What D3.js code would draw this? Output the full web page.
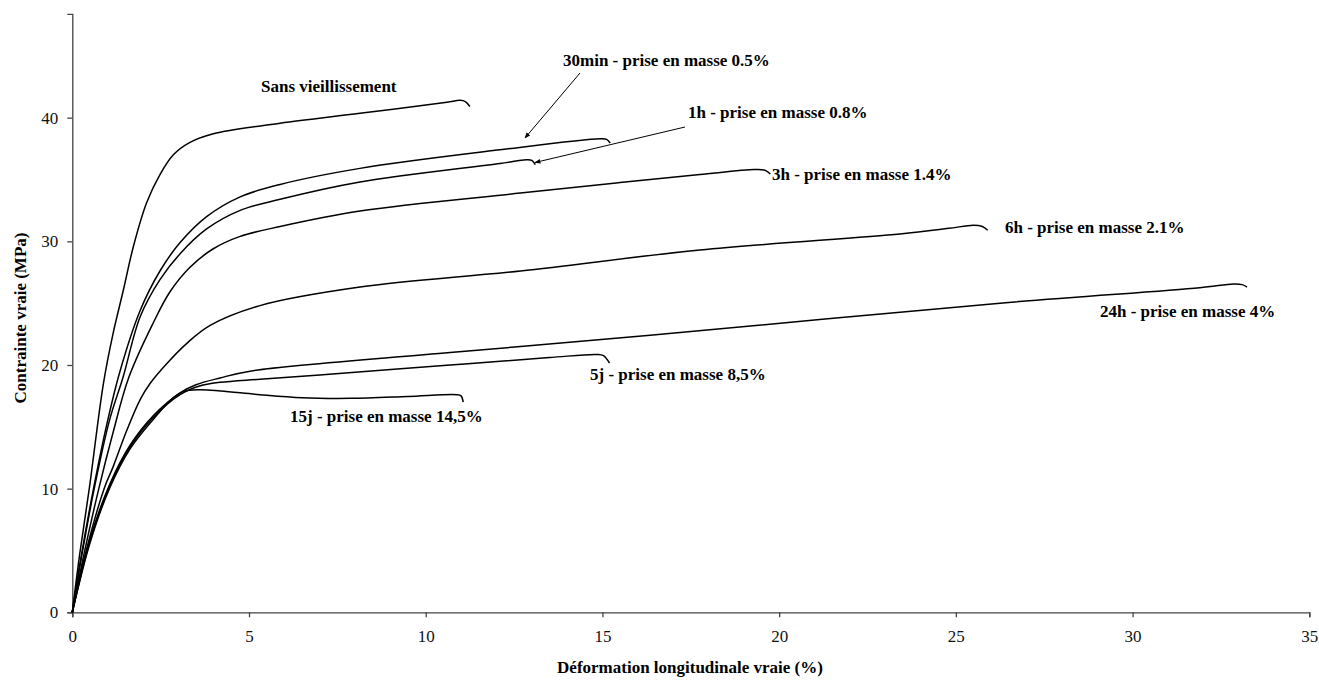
<!DOCTYPE html>
<html>
<head>
<meta charset="utf-8">
<script src="https://cdn.jsdelivr.net/npm/d3@7"></script>
<style>
  html, body { margin: 0; padding: 0; background: #fff; }
  svg { display: block; }
  .lbl { font-family: "Liberation Serif", "Times New Roman", serif; font-weight: bold; font-size: 17px; fill: #000; }
  .tick text { font-family: "Liberation Serif", "Times New Roman", serif; font-size: 17px; fill: #111; }
</style>
</head>
<body>
<script>
// ---- Data (strain %, true stress MPa) ----
const sansVieillissement = [[0,0],[0.2,4.5],[0.48,10],[0.88,18.5],[1.15,22.5],[1.44,26],[1.73,29.6],[2.1,33.1],[2.48,35.4],[2.86,37.0],[3.33,38.0],[3.99,38.7],[5.88,39.55],[8.14,40.35],[10.6,41.25],[10.97,41.4],[11.12,41.3],[11.25,40.9]];
const min30 = [[0,0],[0.25,4.5],[0.6,10],[1.0,15.5],[1.35,19.5],[1.92,24.4],[2.48,27.6],[3.05,29.9],[3.8,32.0],[4.75,33.6],[5.88,34.6],[8.14,35.9],[12.1,37.4],[14.93,38.3],[15.12,38.25],[15.22,37.95]];
const h1 = [[0,0],[0.25,4.3],[0.62,10],[1.05,15.5],[1.44,19.05],[1.92,23.9],[2.48,26.9],[3.05,29.0],[3.8,31.0],[4.75,32.5],[5.88,33.4],[8.14,34.8],[12.1,36.3],[12.85,36.6],[13.0,36.55],[13.1,36.2]];
const h3 = [[0,0],[0.3,4.3],[0.75,10],[1.15,14.5],[1.6,19],[2.29,23.4],[2.76,25.9],[3.33,27.9],[3.99,29.4],[4.75,30.4],[5.88,31.2],[8.14,32.45],[12.68,33.9],[15.5,34.75],[17.76,35.4],[19.3,35.8],[19.6,35.75],[19.75,35.45]];
const h6 = [[0,0],[0.35,4.5],[0.9,10],[1.16,11.8],[1.54,14.7],[1.92,17.2],[2.2,18.5],[2.67,20.1],[3.24,21.75],[3.9,23.2],[5.31,24.8],[8.14,26.3],[12.68,27.6],[17.76,29.3],[23.42,30.6],[24.8,31.05],[25.5,31.3],[25.75,31.2],[25.9,30.9]];
const h24 = [[0,0],[0.5,5.9],[1.05,10.3],[1.63,13.5],[2.29,15.9],[3.05,17.75],[3.5,18.4],[4.18,18.95],[5.03,19.5],[10.69,21.0],[16.35,22.4],[26.25,25.0],[31.9,26.25],[32.85,26.55],[33.1,26.5],[33.24,26.3]];
const j5 = [[0,0],[0.5,5.75],[1.05,10.15],[1.63,13.35],[2.29,15.75],[3.05,17.6],[3.6,18.3],[4.18,18.6],[5.31,18.85],[7,19.2],[10.69,20.0],[13.5,20.6],[14.84,20.85],[15.03,20.75],[15.2,20.15]];
const j15 = [[0,0],[0.5,5.6],[1.05,10.0],[1.63,13.2],[2.29,15.6],[2.8,17.2],[3.14,17.85],[3.61,18.0],[4.2,17.9],[5.31,17.6],[6.5,17.35],[7.86,17.3],[9.5,17.45],[10.88,17.6],[11.0,17.5],[11.06,17.0]];

const series = [sansVieillissement, min30, h1, h3, h6, h24, j5, j15];

const xTicks = [0,5,10,15,20,25,30,35];
const yTicks = [0,10,20,30,40];

const labels = [
  {text: "Sans vieillissement", x: 261, y: 92},
  {text: "30min - prise en masse 0.5%", x: 563, y: 66},
  {text: "1h - prise en masse 0.8%", x: 688, y: 118},
  {text: "3h - prise en masse 1.4%", x: 772, y: 180},
  {text: "6h - prise en masse 2.1%", x: 1005, y: 233},
  {text: "24h - prise en masse 4%", x: 1100, y: 317},
  {text: "5j - prise en masse 8,5%", x: 590, y: 380},
  {text: "15j - prise en masse 14,5%", x: 290, y: 422}
];
const arrows = [
  {x1: 580, y1: 73, x2: 525, y2: 138},
  {x1: 685, y1: 127, x2: 535, y2: 162.5}
];

const W = 1319, H = 681;
const svg = d3.select("body").append("svg").attr("width", W).attr("height", H);

const x = d3.scaleLinear().domain([0, 35]).range([72.3, 1309.3]);
const y = d3.scaleLinear().domain([0, 48.4]).range([612.3, 13.8]);

// axes
const xAxis = svg.append("g").attr("transform", `translate(0,${y(0)})`)
  .call(d3.axisBottom(x).tickValues(xTicks).tickSize(5).tickPadding(9).tickFormat(d3.format("d")));
const yAxis = svg.append("g").attr("transform", `translate(${x(0)},0)`)
  .call(d3.axisLeft(y).tickValues(yTicks).tickSize(5).tickPadding(9).tickFormat(d3.format("d")));
[xAxis, yAxis].forEach(g => {
  g.select(".domain").attr("stroke", "#444").attr("stroke-width", 1.3);
  g.selectAll(".tick line").attr("stroke", "#444").attr("stroke-width", 1.3);
});
xAxis.selectAll(".tick text").attr("dy", "0.9em");

// curves
const line = d3.line().x(d => x(d[0])).y(d => y(d[1])).curve(d3.curveCatmullRom.alpha(0.5));
svg.append("g").selectAll("path").data(series).join("path")
  .attr("d", line).attr("fill", "none").attr("stroke", "#000").attr("stroke-width", 1.5);

// arrow marker
svg.append("defs").append("marker").attr("id", "ah")
  .attr("viewBox", "0 0 10 10").attr("refX", 9).attr("refY", 5)
  .attr("markerWidth", 6).attr("markerHeight", 6).attr("orient", "auto")
  .append("path").attr("d", "M0,1 L10,5 L0,9 z").attr("fill", "#000");
svg.append("g").selectAll("line").data(arrows).join("line")
  .attr("x1", d => d.x1).attr("y1", d => d.y1).attr("x2", d => d.x2).attr("y2", d => d.y2)
  .attr("stroke", "#000").attr("stroke-width", 1).attr("marker-end", "url(#ah)");

// annotations
svg.append("g").selectAll("text").data(labels).join("text")
  .attr("class", "lbl").attr("x", d => d.x).attr("y", d => d.y).text(d => d.text);

// axis titles
svg.append("text").attr("class", "lbl").attr("text-anchor", "middle")
  .attr("x", 690).attr("y", 673).text("Déformation longitudinale vraie (%)");
svg.append("text").attr("class", "lbl").attr("text-anchor", "middle")
  .attr("transform", "translate(26,318) rotate(-90)").text("Contrainte vraie (MPa)");
</script>
</body>
</html>
